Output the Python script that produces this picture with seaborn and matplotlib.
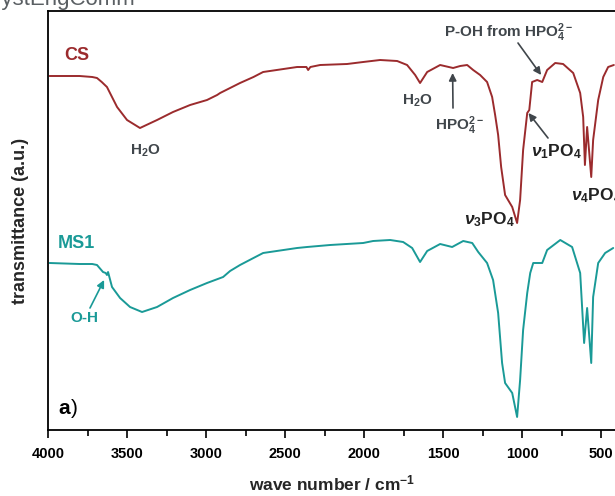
import matplotlib
matplotlib.use("Agg")
import matplotlib.pyplot as plt
import seaborn as sns
import pandas as pd
from matplotlib.ticker import MultipleLocator, FixedLocator

# ---------------- data ----------------
cs_wavenumber = [3990, 3800, 3720, 3690, 3660, 3627, 3563, 3500, 3418, 3310, 3209, 3101, 2994, 2930,
                 2911, 2848, 2785, 2700, 2639, 2424, 2365, 2354, 2340, 2278, 2108, 2006, 1899,
                 1791, 1728, 1677, 1646, 1601, 1519, 1437, 1392, 1348, 1310, 1266, 1222,
                 1190, 1171, 1152, 1133, 1108, 1063, 1032, 1013, 994, 968, 955, 937, 905,
                 873, 842, 791, 741, 677, 633, 614, 603, 589, 563, 551, 519, 487, 456, 420]
cs_transmittance = [354, 354, 353, 352, 348, 343, 323, 310, 302, 310, 318, 325, 330, 335,
                    337, 342, 347, 353, 358, 363, 363, 360, 363, 365, 366, 368, 370,
                    369, 365, 355, 347, 358, 365, 362, 364, 365, 360, 355, 348,
                    333, 315, 295, 263, 235, 223, 207, 230, 280, 317, 320, 348, 350,
                    348, 360, 367, 366, 357, 337, 313, 265, 303, 253, 290, 330, 353, 363, 365]

ms1_wavenumber = [3990, 3800, 3720, 3690, 3652, 3635, 3627, 3620, 3595, 3544, 3481, 3405, 3310,
                  3209, 3101, 2994, 2892, 2848, 2785, 2700, 2639, 2424, 2361, 2215, 2006, 1943,
                  1835, 1753, 1696, 1646, 1601, 1519, 1443, 1373, 1316, 1278, 1222, 1184,
                  1152, 1127, 1108, 1063, 1032, 1013, 994, 968, 949, 930, 873, 842, 759,
                  684, 633, 608, 589, 563, 551, 519, 475, 424]
ms1_transmittance = [167, 166, 166, 165, 158, 157, 155, 158, 143, 132, 123, 118, 123,
                     132, 140, 147, 153, 159, 165, 172, 177, 182, 183, 185, 187, 189,
                     190, 188, 182, 168, 179, 186, 183, 189, 187, 178, 167, 150,
                     117, 67, 47, 37, 13, 50, 100, 137, 157, 167, 167, 180, 190,
                     183, 157, 87, 122, 67, 133, 167, 177, 182]

x_ticks = [4000, 3500, 3000, 2500, 2000, 1500, 1000, 500]
sample_names = ["CS", "MS1"]
sample_colors = {"CS": "#9b2b2d", "MS1": "#1a9a97"}

df = pd.concat([
    pd.DataFrame({"wave number": cs_wavenumber, "transmittance": cs_transmittance, "sample": "CS"}),
    pd.DataFrame({"wave number": ms1_wavenumber, "transmittance": ms1_transmittance, "sample": "MS1"}),
], ignore_index=True)

# ---------------- style ----------------
sns.set_theme(style="white")
plt.rcParams['font.family'] = ['Liberation Sans', 'DejaVu Sans']
plt.rcParams['mathtext.fontset'] = 'custom'
plt.rcParams['mathtext.rm'] = 'Liberation Sans:bold'
plt.rcParams['mathtext.it'] = 'Liberation Sans:italic:bold'
plt.rcParams['mathtext.bf'] = 'Liberation Sans:bold'
plt.rcParams['mathtext.default'] = 'bf'

W, H = 615, 496
fig = plt.figure(figsize=(W / 100, H / 100), dpi=100)
ax = fig.add_axes([48 / W, 66 / H, 569 / W, 419 / H])

for name in sample_names:
    sns.lineplot(data=df[df["sample"] == name], x="wave number", y="transmittance",
                 sort=False, estimator=None, color=sample_colors[name], lw=1.4, ax=ax,
                 legend=False)

ax.set_xlim(4000, 400)
ax.set_ylim(0, 419)
ax.xaxis.set_major_locator(FixedLocator(x_ticks))
ax.xaxis.set_minor_locator(MultipleLocator(250))
ax.set_xticklabels([str(t) for t in x_ticks], fontweight='bold', fontsize=10.5)
ax.set_yticks([])
ax.tick_params(axis='x', which='major', direction='out', length=6, width=1.2,
               color='black', pad=6, labelcolor='black', bottom=True)
ax.tick_params(axis='x', which='minor', direction='out', length=4, width=1.2,
               color='black', bottom=True)
for s in ax.spines.values():
    s.set_color('black')
    s.set_linewidth(1.3)
    s.set_visible(True)

ax.set_xlabel("wave number / cm$^{-1}$", fontweight='bold', fontsize=12.5, labelpad=9)
ax.set_ylabel("transmittance (a.u.)", fontweight='bold', fontsize=13, labelpad=14)

# ---------------- annotations ----------------
gray = '#40464b'

def fp(x, y):
    return (x, H - y)

def ftxt(x, y, s, **kw):
    kw.setdefault('fontweight', 'bold')
    fig.text(x / W, 1 - y / H, s, **kw)

ftxt(77, 55, "CS", color=sample_colors["CS"], fontsize=13, ha='center', va='center')
ftxt(76, 244, "MS1", color=sample_colors["MS1"], fontsize=13, ha='center', va='center')
ftxt(145, 151, "H$_2$O", color=gray, fontsize=11, ha='center', va='center')
ftxt(417, 101, "H$_2$O", color=gray, fontsize=11, ha='center', va='center')
ftxt(459, 126, "HPO$_4^{2-}$", color=gray, fontsize=11, ha='center', va='center')
ftxt(509, 33, "P-OH from HPO$_4^{2-}$", color=gray, fontsize=11, ha='center', va='center')
ftxt(556, 152, r"$\mathit{\nu}_1$PO$_4$", color='#222222', fontsize=12.5, ha='center', va='center')
ftxt(489, 220, r"$\mathit{\nu}_3$PO$_4$", color='#222222', fontsize=12.5, ha='center', va='center')
ftxt(571, 196, r"$\mathit{\nu}_4$PO$_4$", color='#222222', fontsize=12.5, ha='left', va='center')
ftxt(84, 318, "O-H", color=sample_colors["MS1"], fontsize=11, ha='center', va='center')
ftxt(58, 409, "a", color='black', fontsize=15, ha='left', va='center')
ftxt(71, 409, ")", color='black', fontsize=15, ha='left', va='center', fontweight='normal')
ftxt(136, 5, "CrystEngComm", color='#5a5f63', fontsize=16, ha='right', va='baseline',
     fontweight='normal')

arrow_gray = dict(arrowstyle='-|>', color=gray, lw=1.2, mutation_scale=11, shrinkA=0, shrinkB=0)
arrow_teal = dict(arrowstyle='-|>', color=sample_colors["MS1"], lw=1.2, mutation_scale=11, shrinkA=0, shrinkB=0)

# HPO4 (CS ~1440)
ax.annotate("", xy=(1440, 357), xycoords='data', xytext=fp(453, 108), textcoords='figure pixels',
            arrowprops=arrow_gray)
# P-OH (CS ~880)
ax.annotate("", xy=(880, 355), xycoords='data', xytext=fp(518, 43), textcoords='figure pixels',
            arrowprops=arrow_gray)
# nu1 (CS ~960)
ax.annotate("", xy=(960, 317), xycoords='data', xytext=fp(548, 138), textcoords='figure pixels',
            arrowprops=arrow_gray)
# O-H (MS1 ~3640)
ax.annotate("", xy=(3645, 150), xycoords='data', xytext=fp(90, 308), textcoords='figure pixels',
            arrowprops=arrow_teal)

fig.savefig("out.png", dpi=100)
